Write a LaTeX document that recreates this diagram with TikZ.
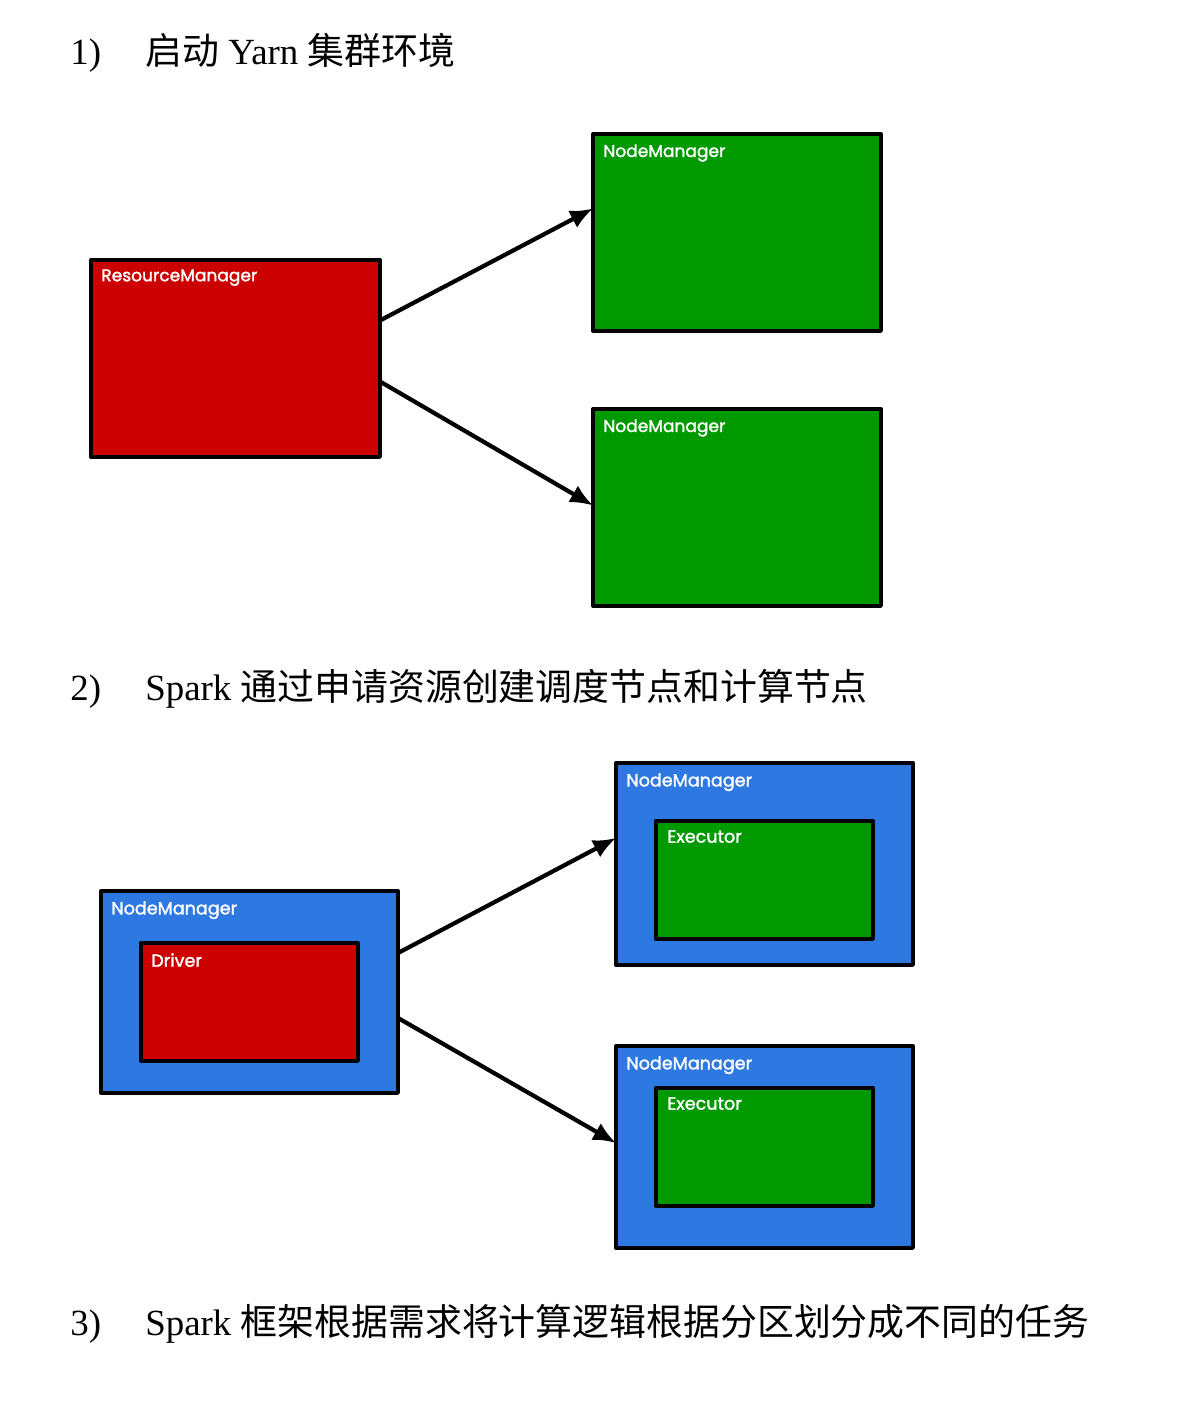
\documentclass[tikz,border=0pt]{standalone}
\usepackage{fontspec}
\setmainfont{Liberation Serif}
\newfontfamily\cjk{Noto Sans CJK SC}
\newfontfamily\hand[FakeBold=1.6]{Poppins}
\usetikzlibrary{arrows.meta}

\definecolor{rmred}{HTML}{CC0000}
\definecolor{nmgreen}{HTML}{009900}
\definecolor{nmblue}{HTML}{2E78E2}

% one pixel of the page, for sizes of the boxes
\newcommand\px{0.02cm}

\tikzset{
  box/.style={draw=black,line width=1.9pt,inner sep=0pt,outer sep=0pt,anchor=north west},
  rmbox/.style={box,fill=rmred,minimum width=289*\px,minimum height=197*\px},
  nmbox/.style={box,fill=nmgreen,minimum width=288*\px,minimum height=197*\px},
  hostbox/.style={box,fill=nmblue,minimum width=297*\px,minimum height=202*\px},
  taskbox/.style={box,minimum width=217*\px,minimum height=118*\px},
  lbl/.style={anchor=north west,inner sep=0pt,text=white,font=\hand\fontsize{9.7}{12}\selectfont},
  lblb/.style={lbl,font=\hand\fontsize{10}{12}\selectfont},
  title/.style={anchor=base west,inner sep=0pt,font=\fontsize{21}{25}\selectfont},
  conn/.style={line width=2.4pt,-{Latex[length=13pt,width=11pt]}}
}

\begin{document}
\begin{tikzpicture}[x=0.02cm,y=-0.02cm,line join=round]
  % the page, in pixels, y going down
  \useasboundingbox (0,0) rectangle (1184,1410);

  % 1) yarn cluster
  \node[title] (n1) at (70,64) {1)};
  \node[title] (t1) at (145,64) {{\cjk 启动} Yarn {\cjk 集群环境}};

  \node[rmbox] (rm) at (91,260) {};
  \node[nmbox] (nm1) at (593,134) {};
  \node[nmbox] (nm2) at (593,409) {};

  \node[lbl] (rmlbl) at ([xshift=10*\px,yshift=-9*\px]rm.north west) {ResourceManager};
  \node[lbl] (nm1lbl) at ([xshift=10*\px,yshift=-10*\px]nm1.north west) {NodeManager};
  \node[lbl] (nm2lbl) at ([xshift=10*\px,yshift=-10*\px]nm2.north west) {NodeManager};

  \draw[conn] ([yshift=38*\px]rm.east) -- ([yshift=24*\px]nm1.west);
  \draw[conn] ([yshift=-23*\px]rm.east) -- ([yshift=2*\px]nm2.west);

  % 2) driver and executors
  \node[title] (n2) at (70,700) {2)};
  \node[title] (t2) at (145,700) {Spark {\cjk 通过申请资源创建调度节点和计算节点}};

  \node[hostbox] (hostd) at (101,891) {};
  \node[taskbox,fill=rmred] (drv) at (141,943) {};
  \node[hostbox] (hoste1) at (616,763) {};
  \node[taskbox,fill=nmgreen] (exe1) at (656,821) {};
  \node[hostbox] (hoste2) at (616,1046) {};
  \node[taskbox,fill=nmgreen] (exe2) at (656,1088) {};

  \node[lblb] (hostdlbl) at ([xshift=10*\px,yshift=-10*\px]hostd.north west) {NodeManager};
  \node[lblb] (drvlbl) at ([xshift=10*\px,yshift=-10*\px]drv.north west) {Driver};
  \node[lblb] (hoste1lbl) at ([xshift=10*\px,yshift=-10*\px]hoste1.north west) {NodeManager};
  \node[lblb] (exe1lbl) at ([xshift=11*\px,yshift=-9*\px]exe1.north west) {Executor};
  \node[lblb] (hoste2lbl) at ([xshift=10*\px,yshift=-10*\px]hoste2.north west) {NodeManager};
  \node[lblb] (exe2lbl) at ([xshift=11*\px,yshift=-9*\px]exe2.north west) {Executor};

  \draw[conn] ([yshift=39*\px]hostd.east) -- ([yshift=26*\px]hoste1.west);
  \draw[conn] ([yshift=-26*\px]hostd.east) -- ([yshift=4*\px]hoste2.west);

  % 3) tasks
  \node[title] (n3) at (70,1335) {3)};
  \node[title] (t3) at (145,1335) {Spark {\cjk 框架根据需求将计算逻辑根据分区划分成不同的任务}};
\end{tikzpicture}
\end{document}
